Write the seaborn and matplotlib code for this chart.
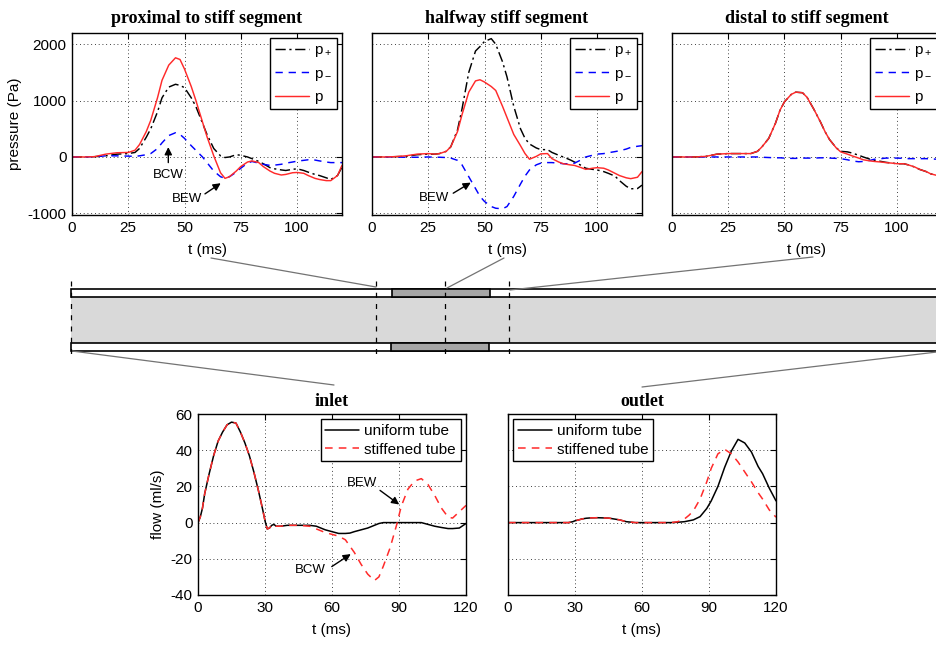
import numpy as np
import pandas as pd
import matplotlib
matplotlib.use("Agg")
import matplotlib.pyplot as plt
import seaborn as sns
from matplotlib.patches import Rectangle

# ---------------- data ----------------
t_top = [0, 5, 10, 15, 20, 25, 28, 30, 33, 35, 38, 40, 43, 46, 48, 50, 53, 55, 58, 60, 63, 66,
         68, 70, 73, 75, 78, 80, 83, 85, 88, 90, 93, 95, 98, 100, 103, 105, 108, 110, 113, 115, 118, 120]

# proximal to stiff segment (Pa)
prox_pf = [0, 0, 5, 20, 50, 60, 80, 150, 350, 500, 800, 1050, 1240, 1290, 1270, 1230, 1050, 900, 600, 400,
           150, 20, -10, 0, 40, 30, 0, -30, -80, -120, -190, -210, -230, -240, -220, -210, -240, -270,
           -310, -330, -370, -400, -330, -180]
prox_pb = [0, 0, 5, 20, 20, 15, 10, 20, 40, 60, 150, 250, 380, 430, 400, 330, 200, 120, 0, -100,
           -250, -350, -380, -350, -270, -200, -110, -80, -110, -130, -150, -145, -130, -110, -90, -75,
           -60, -50, -55, -70, -90, -100, -100, -100]
prox_p = [0, 0, 5, 50, 75, 80, 120, 220, 450, 650, 1050, 1360, 1630, 1760, 1730, 1560, 1250, 1010, 620, 360,
          20, -280, -380, -350, -250, -170, -90, -70, -100, -170, -250, -290, -320, -310, -280, -275,
          -290, -330, -380, -400, -420, -420, -330, -150]

# halfway stiff segment (Pa)
half_pf = [0, 0, 5, 10, 40, 50, 50, 60, 100, 180, 480, 850, 1500, 1880, 1960, 2050, 2100, 2000, 1690, 1420,
           900, 500, 330, 230, 160, 130, 130, 80, 30, 0, -50, -90, -150, -200, -220, -230, -260, -290,
           -340, -420, -520, -565, -560, -500]
half_pb = [0, 0, 0, -5, -5, 0, -5, -5, -10, -20, -60, -140, -350, -560, -700, -790, -880, -910, -920, -880,
           -700, -480, -340, -230, -140, -110, -100, -100, -110, -120, -120, -110, -50, 0, 30, 50,
           60, 75, 95, 110, 140, 170, 190, 200]
half_p = [0, 0, 5, 20, 50, 60, 50, 60, 100, 180, 450, 750, 1150, 1350, 1370, 1330, 1250, 1180, 900, 700,
          400, 200, 60, -40, 10, 55, 60, -30, -90, -120, -140, -150, -190, -220, -200, -190,
          -200, -230, -290, -330, -370, -385, -360, -260]

# distal to stiff segment (Pa)
dist_pf = [0, 0, 0, 10, 50, 60, 60, 60, 60, 60, 100, 180, 330, 600, 830, 980, 1110, 1150, 1140, 1060,
           850, 620, 450, 310, 160, 100, 90, 70, 30, 0, -40, -60, -80, -95, -110, -120, -120, -140,
           -180, -220, -260, -300, -330, -350]
dist_pb = [0, 0, 0, 0, 0, 0, 0, 0, 0, 0, 0, -5, -10, -15, -15, -20, -25, -25, -20, -20,
           -20, -15, -15, -20, -25, -30, -50, -70, -85, -80, -60, -40, -30, -20, -20, -20,
           -25, -30, -30, -30, -30, -35, -40, -40]
dist_p = [0, 0, 0, 10, 50, 60, 60, 60, 60, 60, 100, 180, 330, 600, 830, 980, 1110, 1150, 1140, 1060,
          850, 620, 450, 310, 160, 90, 50, 20, -20, -50, -70, -80, -90, -100, -110, -120, -120, -140,
          -180, -220, -260, -300, -330, -350]

t_flow = [0, 1, 2, 3, 5, 7, 9, 11, 13, 15, 17, 19, 21, 23, 25, 27, 29, 30, 31, 32, 33, 34, 35, 37, 40, 45,
          50, 53, 57, 60, 63, 66, 68, 70, 73, 76, 79, 81, 83, 86, 89, 91, 94, 97, 100, 103, 106, 109,
          112, 114, 117, 120]

inlet_uniform = [0, 3, 8, 16, 27, 37, 45, 50, 54, 55.5, 55, 50, 44, 37, 28, 18, 7, 1, -3.5, -3,
                 -1.5, -1, -2, -2, -1.5, -1.5, -1.5, -2, -4, -5, -6, -6, -5.8, -5, -4, -3, -1.5, -0.5,
                 0, 0, 0, 0, 0, 0, 0, -1, -2, -2.7, -3.3, -3.3, -3, -0.5]
inlet_stiff = [0, 3, 8, 16, 27, 37, 45, 50, 54, 55.5, 55, 50, 44, 37, 28, 18, 7, 1, -3.5, -3,
               -1.5, -1, -2, -2, -1.5, -1.5, -2, -3.5, -5.5, -6.5, -7.5, -9.5, -13, -16.5, -23, -28.5,
               -32, -30, -24, -14, -1, 9, 18.5, 23, 24.3, 21, 15, 8, 3, 2.5, 6, 9.5]
outlet_uniform = [0, 0, 0, 0, 0, 0, 0, 0, 0, 0, 0, 0, 0, 0, 0, 0, 0.5, 1, 1.3, 1.6, 2, 2.2, 2.4, 2.6,
                  2.7, 2.5, 1.5, 0.5, 0, 0, 0, 0, 0, 0, 0, 0.2, 0.5, 1, 1.5, 3.3, 7.8, 12, 20, 30.5,
                  39.5, 46, 44, 39, 31, 27, 19, 12]
outlet_stiff = [0, 0, 0, 0, 0, 0, 0, 0, 0, 0, 0, 0, 0, 0, 0, 0, 0.5, 1, 1.3, 1.6, 2, 2.2, 2.4, 2.6,
                2.7, 2.5, 1.5, 0.5, 0, 0, 0, 0, 0, 0, 0, 0.5, 2, 4, 6.5, 13, 22.5, 30, 38, 40.5,
                38, 33.5, 28, 22.5, 16.5, 13, 7, 3]

top_titles = ["proximal to stiff segment", "halfway stiff segment", "distal to stiff segment"]
bottom_titles = ["inlet", "outlet"]
wave_labels = ["p$_+$", "p$_-$", "p"]
tube_labels = ["uniform tube", "stiffened tube"]
top_xticks = [0, 25, 50, 75, 100]
top_yticks = [-1000, 0, 1000, 2000]
bot_xticks = [0, 30, 60, 90, 120]
bot_yticks = [-40, -20, 0, 20, 40, 60]

# ---------------- style ----------------
sns.set_style("white")
plt.rcParams.update({
    "font.family": ["Liberation Sans", "DejaVu Sans"],
    "mathtext.fontset": "custom",
    "mathtext.rm": "Liberation Sans",
    "mathtext.it": "Liberation Sans:italic",
    "mathtext.bf": "Liberation Sans:bold",
    "axes.unicode_minus": False,
    "axes.edgecolor": "k",
    "text.color": "k",
    "axes.labelcolor": "k",
    "xtick.color": "k",
    "ytick.color": "k",
})

W, H = 937, 645
fig = plt.figure(figsize=(W / 100, H / 100), dpi=100)


def px_axes(left, top, right, bottom):
    return fig.add_axes([left / W, 1 - bottom / H, (right - left) / W, (bottom - top) / H])


FS = 11
TITLE_FONT = dict(family="Liberation Serif", weight="bold", size=13)
DASHDOT = (0, (7, 2.5, 1.5, 2.5))
DASHED = (0, (5, 4))
RED = "#ff2a2a"


def style_axes(ax, xticks, yticks, xlim, ylim, ylabels):
    ax.set_xlim(*xlim)
    ax.set_ylim(*ylim)
    ax.set_xticks(xticks)
    ax.set_yticks(yticks)
    ax.grid(True, linestyle=(0, (1, 3.5)), color="k", linewidth=0.6)
    ax.set_axisbelow(True)
    ax.tick_params(direction="in", top=True, right=True, length=4, width=0.8,
                   labelsize=FS, pad=4)
    if not ylabels:
        ax.tick_params(labelleft=False)
    for s in ax.spines.values():
        s.set_visible(True)
        s.set_color("k")
        s.set_linewidth(1.0)
    ax.set_xlabel("t (ms)", fontsize=FS, labelpad=6)


def legend(ax, loc, spacing):
    lg = ax.legend(loc=loc, fontsize=FS, frameon=True, fancybox=False, edgecolor="k",
                   framealpha=1, borderaxespad=0.35, handlelength=2.2, labelspacing=spacing,
                   borderpad=0.3, handletextpad=0.35)
    lg.get_frame().set_linewidth(1.0)
    return lg


# ---------------- top panels ----------------
top_lefts = [72, 372, 672]
top_series = [(prox_pf, prox_pb, prox_p), (half_pf, half_pb, half_p), (dist_pf, dist_pb, dist_p)]
wave_colors = ["k", "#0000ff", RED]
wave_styles = [DASHDOT, DASHED, "-"]
top_axes = []
for i, (left, series) in enumerate(zip(top_lefts, top_series)):
    ax = px_axes(left, 33, left + 270, 215)
    for vals, lab, col, ls in zip(series, wave_labels, wave_colors, wave_styles):
        sns.lineplot(x=t_top, y=vals, ax=ax, color=col, linestyle=ls, linewidth=1.05, label=lab)
    style_axes(ax, top_xticks, top_yticks, (0, 120), (-1030, 2200), ylabels=(i == 0))
    ax.set_title(top_titles[i], fontdict=TITLE_FONT, pad=7)
    legend(ax, "upper right", 0.5)
    top_axes.append(ax)
top_axes[0].set_ylabel("pressure (Pa)", fontsize=FS, labelpad=4)

# ---------------- bottom panels ----------------
bot_lefts = [198, 508]
bot_series = [(inlet_uniform, inlet_stiff), (outlet_uniform, outlet_stiff)]
bot_locs = ["upper right", "upper left"]
bot_axes = []
for i, (left, series) in enumerate(zip(bot_lefts, bot_series)):
    ax = px_axes(left, 414, left + 268, 595)
    sns.lineplot(x=t_flow, y=series[0], ax=ax, color="k", linestyle="-", linewidth=1.1,
                 label=tube_labels[0])
    sns.lineplot(x=t_flow, y=series[1], ax=ax, color=RED, linestyle=DASHED, linewidth=1.1,
                 label=tube_labels[1])
    style_axes(ax, bot_xticks, bot_yticks, (0, 120), (-40, 60), ylabels=(i == 0))
    ax.set_title(bottom_titles[i], fontdict=TITLE_FONT, pad=6)
    legend(ax, bot_locs[i], 0.3)
    bot_axes.append(ax)
bot_axes[0].set_ylabel("flow (ml/s)", fontsize=FS, labelpad=4)

# ---------------- annotations ----------------
ARROW = dict(arrowstyle="-|>", color="k", lw=1.0, mutation_scale=11, shrinkA=0, shrinkB=0)
annots = [
    (top_axes[0], "BCW", (42.8, -320), (42.8, -100), (42.8, 175)),
    (top_axes[0], "BEW", (51.0, -743), (59.1, -655), (66.1, -466)),
    (top_axes[1], "BEW", (27.4, -720), (36.1, -643), (43.9, -455)),
    (bot_axes[0], "BEW", (73.3, 21.8), (81.5, 17.8), (90.1, 10.0)),
    (bot_axes[0], "BCW", (50.5, -26.3), (59.9, -24.3), (68.4, -17.4)),
]
for ax, txt, tpos, tail, head in annots:
    ax.text(*tpos, txt, fontsize=9.5, ha="center", va="center")
    ax.annotate("", xy=head, xytext=tail, arrowprops=ARROW)

# ---------------- tube schematic ----------------
ov = fig.add_axes([0, 0, 1, 1], zorder=-1)
ov.set_xlim(0, W)
ov.set_ylim(H, 0)
ov.axis("off")

tube_x = (71, 950)
wall_top = (289, 297)
lumen = (297, 343)
wall_bot = (343, 351)
stiff_top_x = (392, 490)
stiff_bot_x = (391, 489)
probe_x = [71, 376, 445, 509]
probe_y = (281, 358)
links = [((211, 258), (376, 287)), ((447, 288), (504, 258)), ((510, 290), (813, 257)),
         ((72, 351), (334, 385)), ((937, 352), (642, 387))]

ov.add_patch(Rectangle((tube_x[0], lumen[0]), tube_x[1] - tube_x[0], lumen[1] - lumen[0],
                       facecolor="#d9d9d9", edgecolor="none"))
for (y0, y1) in (wall_top, wall_bot):
    ov.add_patch(Rectangle((tube_x[0], y0), tube_x[1] - tube_x[0], y1 - y0,
                           facecolor="white", edgecolor="k", lw=1.2))
ov.add_patch(Rectangle((stiff_top_x[0], wall_top[0]), stiff_top_x[1] - stiff_top_x[0],
                       wall_top[1] - wall_top[0], facecolor="#a6a6a6", edgecolor="k", lw=1.2))
ov.add_patch(Rectangle((stiff_bot_x[0], wall_bot[0]), stiff_bot_x[1] - stiff_bot_x[0],
                       wall_bot[1] - wall_bot[0], facecolor="#a6a6a6", edgecolor="k", lw=1.2))
for x in probe_x:
    ov.plot([x, x], list(probe_y), color="k", linestyle=(0, (4, 5)), lw=0.9, zorder=5)
for (a, b) in links:
    ov.plot([a[0], b[0]], [a[1], b[1]], color="0.45", lw=0.9, zorder=4)

fig.savefig("out.png", dpi=100)
